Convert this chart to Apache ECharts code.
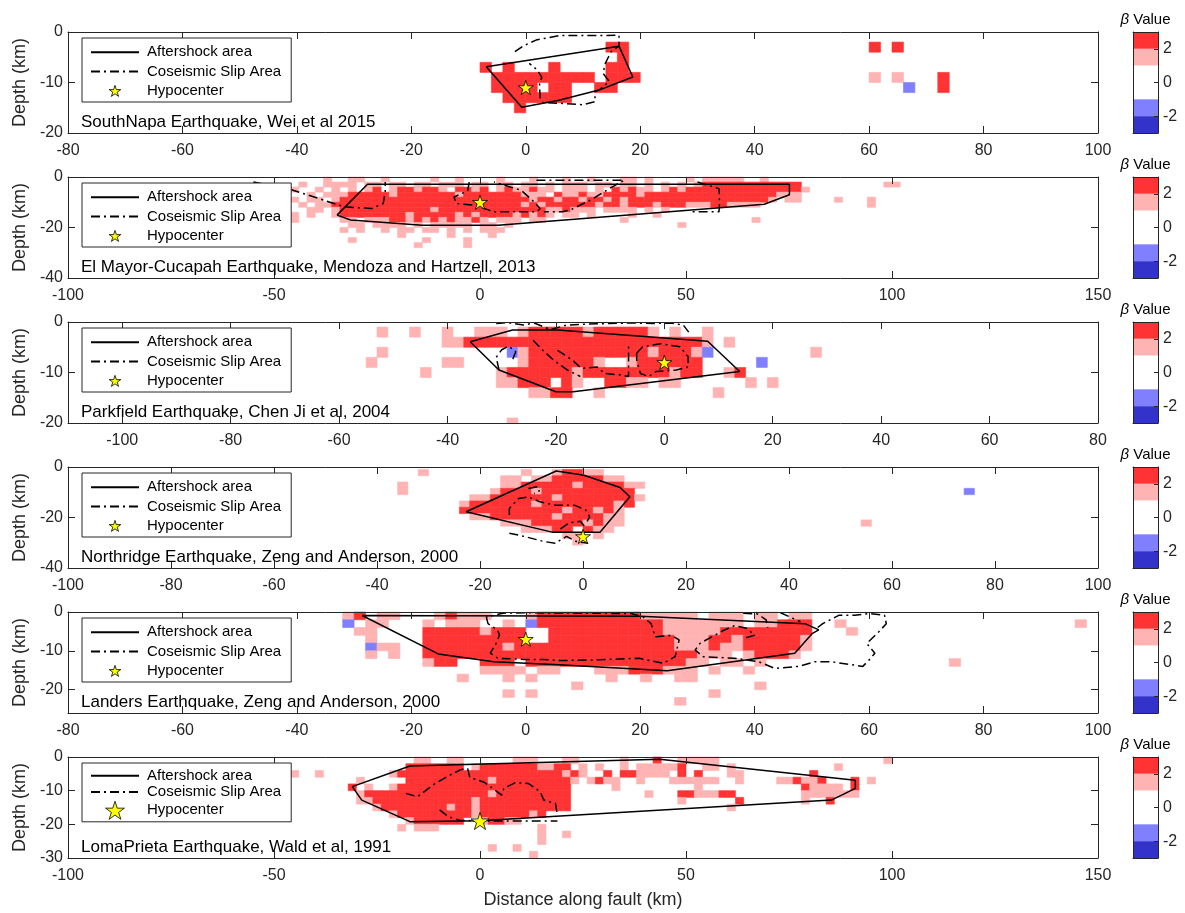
<!DOCTYPE html>
<html>
<head>
<meta charset="utf-8">
<script src="https://cdn.jsdelivr.net/npm/echarts@6/dist/echarts.min.js"></script>
<style>
  html, body { margin: 0; padding: 0; background: #ffffff; }
  #chart { width: 1185px; height: 913px; }
</style>
</head>
<body>
<div id="chart"></div>
<script>
// ---------------------------------------------------------------------------
// β value classes shared by every panel and colour bar
// ---------------------------------------------------------------------------
const betaLevels = [
  { from: 2, to: 3, color: '#ff3333' },
  { from: 1, to: 2, color: '#ffb3b3' },
  { from: -1, to: 1, color: '#ffffff' },
  { from: -2, to: -1, color: '#8080ff' },
  { from: -3, to: -2, color: '#3333cc' }
];
const betaTicks = [-2, 0, 2];
// cell codes used in the row strings below: R β>2, r 1<β<2, b -2<β<-1, B β<-2
const codeBeta = { R: 2.5, r: 1.5, b: -1.5, B: -2.5 };

const seriesNames = ['Aftershock area', 'Coseismic Slip Area', 'Hypocenter'];

// ---------------------------------------------------------------------------
// South Napa (Wei et al 2015) — 2 km cells, columns start at x = -7
// ---------------------------------------------------------------------------
const napaLabel = 'SouthNapa Earthquake, Wei et al 2015';
const napaXTicks = [-80, -60, -40, -20, 0, 20, 40, 60, 80, 100];
const napaYTicks = [-20, -10, 0];
const napaXRange = [-80, 100];
const napaYRange = [-20, 0];
const napaGrid = { x0: -7, dx: 2, dy: 2 };
const napaRows = [
  [-3,  '..... ..... .RR.'],
  [-5,  '..... ..... ..R.'],
  [-7,  'R.R.. .R... .RR.'],
  [-9,  '.RRRR RRRRR .RRR'],
  [-11, '.RRRR .RR.. RR..'],
  [-13, '..RRR RRR.. ....'],
  [-15, '...R. ..... ....']
];
const napaExtra = [[61, -3, 'R'], [65, -3, 'R'], [61, -9, 'r'], [65, -9, 'r'], [67, -11, 'b'], [73, -9, 'R'], [73, -11, 'R']];
const napaAftershock = [[-6.9, -6.9], [-0.7, -14.9], [5.8, -13.5], [12.8, -11.5], [18.7, -8.9], [16.3, -2.8], [-6.9, -6.9]];
const napaSlip = [
  [[-1.9, -3.9], [-0.5, -2.8], [1.8, -1.6], [5.8, -0.7], [16.3, -0.66], [16.3, -2.8], [14.9, -3.9], [13.9, -6.2], [13.5, -8.2],
   [14.6, -9.8], [12.8, -11.5], [12.1, -11.8], [12.1, -13.8], [10, -14.4], [5.8, -14.1], [3, -14], [2.5, -13], [2.4, -10],
   [2.8, -9], [2, -7.5], [0.6, -6.2]]
];
const napaHypo = [0, -11];

// ---------------------------------------------------------------------------
// El Mayor-Cucapah (Mendoza and Hartzell, 2013) — columns start at x = -55
// ---------------------------------------------------------------------------
const elMayorLabel = 'El Mayor-Cucapah Earthquake, Mendoza and Hartzell, 2013';
const elMayorXTicks = [-100, -50, 0, 50, 100, 150];
const elMayorYTicks = [-40, -20, 0];
const elMayorXRange = [-100, 150];
const elMayorYRange = [-40, 0];
const elMayorGrid = { x0: -55, dx: 2, dy: 2 };
const elMayorRows = [
  [-1,  '..... ....r ..rr. .r... ..r.. r.... r...r ...r. .r... rr.r. ...r. rrrrr ..r.. ..... ..... .....'],
  [-3,  '..... .r..r rrr.r r.rr. rr.rr r.rr. rr.rr .r.rr r.rr. rr.r. r.r.r RRRRR RRRRR RR... ..... ..rr.'],
  [-5,  '..... r..r. r.r.r R.rRR rRRr. RRrR. rRrrR rr.rr r.r.R rRrr. rRrRR RRRRR RRRRR RRr.. ..... .....'],
  [-7,  '..... ..r.r rrRRR RRrRR RRRRR rRRRR RRRrr r.Rrr RrrRR RRrRR RRRRR RRRRR RRRRr rr... ..... .....'],
  [-9,  '....r r.rr. rRRRR RRRRR RRRRR RRRRR RRRRr RRrRR rRRrR rRRRR RRRRR RRRRR RRRr. rr... .r... r....'],
  [-11, '..... .r.rr RRRRR RRRRR RRRRR RRRRR RRRrR rRRRR RRrRR rRRRr RRRrr rRRrr rr... ..... ..... r....'],
  [-13, '..... ..rr. rRRRR RRRRR RRrRR RRRRR RRRRR RrrRr rr.rr rr.r. r.... ..... ..... ..... ..... .....'],
  [-15, '..... r.r.. rRRRR RRRRr RRRRR rRrRR RRrRr Rr.rr .r... .r..r ..... ..... ..... ..... ..... .....'],
  [-17, '..... r.... .rr.r rrRRr RrRrR rrRr. rrr.r r.... ..... r.... ..... ..... .r... ..... ..... .....'],
  [-19, '..... ..... ..rr. rrrr. r.rrr rr.rr .r... ..... ..... ..... ..r.. ..... ..... ..... ..... .....'],
  [-21, '..... ..... .r.r. .r.rr .rr.r .r.rr r.... .....'],
  [-23, '..... ..... ..... ...r. ....r ....r ..... .....'],
  [-25, '..... ..... ..r.. ..... .r... .r... ..... .....'],
  [-27, '..... ..... ..... ..... r.... .r... ..... .....']
];
const elMayorExtra = [];
const elMayorAftershock = [[-34.7, -15.1], [-27.3, -2.9], [75.1, -2.9], [75.1, -7], [69, -10.8], [4.4, -19.1], [-14, -19.1], [-31.4, -17], [-34.7, -15.1]];
const elMayorSlip = [
  [[-55, -2], [-46, -4.9], [-39, -8.6], [-33, -11.8], [-26.3, -12.5], [-23.5, -10.5], [-23, -6], [-23, -2]],
  [[-2.6, -2], [-3, -5.5], [-6.3, -7.9], [-5.8, -10.5], [-1.2, -11.2], [3.4, -13.8], [13.7, -13.8], [14.6, -12.5], [12.7, -9.2], [10, -5.3], [3.4, -2]],
  [[13.7, -1.3], [35, -1.3], [32, -4], [27, -9], [22, -13], [20, -13.8], [15.5, -13.8]],
  [[52.8, -2], [58, -4.6], [58.1, -7], [58.1, -12], [58, -13.8], [51.4, -13.8]]
];
const elMayorHypo = [0, -10];

// ---------------------------------------------------------------------------
// Parkfield (Chen Ji et al, 2004) — columns start at x = -56
// ---------------------------------------------------------------------------
const parkfieldLabel = 'Parkfield Earthquake, Chen Ji et al, 2004';
const parkfieldXTicks = [-100, -80, -60, -40, -20, 0, 20, 40, 60, 80];
const parkfieldYTicks = [-20, -10, 0];
const parkfieldXRange = [-110, 80];
const parkfieldYRange = [-20, 0];
const parkfieldGrid = { x0: -56, dx: 2, dy: 2 };
const parkfieldRows = [
  [-2,  '..r.. r..r. .rrr. rRRRR RrRRR RRr.r ..r.. ..... .....'],
  [-4,  '..... ...rr RRRRR RRRRR RRRRR RRRRR RRr.r ..... .....'],
  [-6,  '..r.. ..... ....b rRRRR RRRRR RRrRR Rrb.. ..... ..r..'],
  [-8,  '.r... ...rr ..... rRRRR RRr.. rRRRR RR... ..b.. .....'],
  [-10, '..... .r... ...rR RRRRR rRRRR RRRRr RR..r R.... .....'],
  [-12, '..... ..... ...rr RRR.R r..RR rr.rr ..... .r.r. .....'],
  [-14, '..... ..... ..... .rrRR ..r.. ..... ...r. ..... .....'],
  [-20, '..... ..... ....r']
];
const parkfieldExtra = [[-70, -6, 'r']];
const parkfieldAftershock = [[-35.8, -3.9], [-28, -1.6], [-19.7, -1.6], [8, -3.8], [13.9, -9.8], [-16.8, -13.8], [-20, -13.8], [-30.5, -9.5], [-35.8, -3.9]];
const parkfieldSlip = [
  [[-30.5, -9.5], [-31, -7], [-30, -5.5], [-28.7, -4.8], [-27.4, -5.9], [-28, -7.5]],
  [[-31, -0.3], [-29, -0.1], [-26, -0.6], [-24, -0.2], [-21, -1.5], [-18, -0.6], [-14, -0.4], [-10, -0.3], [-6, -0.2], [-2, -0.3], [1, -0.2], [3.5, -0.6], [4.5, -2]],
  [[-24.2, -3.6], [-22.5, -5.5], [-20.5, -7.5], [-17.9, -9.5], [-15.5, -10.8]],
  [[-19.7, -5.6], [-17, -7.5], [-15.3, -9.2], [-12.4, -8.9], [-11, -10.2], [-8, -10.5], [-6.6, -10.8], [-6.6, -4.3]],
  [[-5.1, -6.2], [-4, -4.9], [-0.7, -4.3], [2.9, -4.9], [4.4, -6.9], [4.4, -8.9], [2.2, -9.5], [-1.5, -9.8], [-2.9, -10.8], [-4.4, -10.2], [-5.1, -7.5], [-5.1, -6.2]]
];
const parkfieldHypo = [0, -8];

// ---------------------------------------------------------------------------
// Northridge (Zeng and Anderson, 2000) — columns start at x = -25, rows 2.5 km apart
// ---------------------------------------------------------------------------
const northridgeLabel = 'Northridge Earthquake, Zeng and Anderson, 2000';
const northridgeXTicks = [-100, -80, -60, -40, -20, 0, 20, 40, 60, 80, 100];
const northridgeYTicks = [-40, -20, 0];
const northridgeXRange = [-100, 100];
const northridgeYRange = [-40, 0];
const northridgeGrid = { x0: -25, dx: 2, dy: 2.5 };
const northridgeRows = [
  [-2.2,  '..... ..r.. rRRrr .....'],
  [-4.7,  '..... rr.rr RRRRR rr...'],
  [-7.2,  '..... rrRRR RRrRR RRrr.'],
  [-9.7,  '....r RRRrR RRRRR RRR..'],
  [-12.2, '..rrR RRRRR rRRRR RRRr.'],
  [-14.7, '.rRRR RRRrR RRRRR RrR..'],
  [-17.2, '.RRRR RRRRR RrRRr Rr...'],
  [-19.7, '..rrR RRRRR rRRRR rr...'],
  [-22.2, '..... rrrRR RRRrR rr...'],
  [-24.7, '..... ..rrr RR.Rr r....'],
  [-27.2, '..... ..... .rr.r .....'],
  [-29.7, '..... ..... ..r.. .....']
];
const northridgeExtra = [[-31, -2.2, 'r'], [-35, -7.2, 'r'], [-35, -9.7, 'r'], [55, -22.2, 'r'], [75, -9.7, 'b']];
const northridgeAftershock = [[-22.7, -17.7], [-5.2, -1.6], [0.2, -3.3], [7.2, -8.1], [9.1, -11.8], [3.3, -25.8], [-6, -25.8], [-22.7, -17.7]];
const northridgeSlip = [
  [[-14.3, -19], [-14.3, -16.4], [-12.5, -12.5], [-10.6, -11.8], [-8.4, -13.8], [-5.4, -15.1], [-1.7, -15.1], [0.5, -17], [1.3, -19.7], [0.8, -21.5]],
  [[-10.6, -8.5], [-8.8, -7.8], [-8.5, -9.5], [-9.5, -10.5]],
  [[-14.3, -26.2], [-11.4, -27.5], [-7.6, -29.5], [-5.4, -30.2], [-3.2, -27.5], [-1.3, -29.5], [1, -30.2]],
  [[-4.4, -24.5], [-2.5, -22], [-0.5, -21.5], [0.5, -24]]
];
const northridgeHypo = [0, -27.5];

// ---------------------------------------------------------------------------
// Landers (Zeng and Anderson, 2000) — columns start at x = -33
// ---------------------------------------------------------------------------
const landersLabel = 'Landers Earthquake, Zeng and Anderson, 2000';
const landersXTicks = [-80, -60, -40, -20, 0, 20, 40, 60, 80, 100];
const landersYTicks = [-20, -10, 0];
const landersXRange = [-80, 100];
const landersYRange = [-26, 0];
const landersGrid = { x0: -33, dx: 2, dy: 2 };
const landersRows = [
  [-1,  '.rR.r r...r Rrrr. ..rRR RRRRR RRrrr rr.rr r.rr. rr... .....'],
  [-3,  '.b.rr ...r. rrr.. r.bRR RRRRR RRRRr rrrrr r.rrR RR..r .....'],
  [-5,  '..rr. ...RR RRRrR RR..R RRRRR RRRRr rrrrR RRRRR RR... r....'],
  [-7,  '...r. ...RR RRRRR RR..R RRRRR RRRRR rrrRR rRRRR Rr... .....'],
  [-9,  '...br r..RR RRRRR rRRRR RRRRR RRRRR rrrRr rRRRR Rr... .....'],
  [-11, '...r. r..RR RRRRR RRRRR RRRRR RRRRR RRrrr .rRRR r.... .....'],
  [-13, '..... ...rR R..RR R.RRR RRRRR RRRRR Rrr.r r.r.. ..... .....'],
  [-15, '..... ..... ...rr rr.rr ...rr rRRRr rr.r. .r... ..... .....'],
  [-17, '..... ..... .r... r.r.. ....r ..r.. rr... ..... ..... .....'],
  [-19, '..... ..... ..... ..... .r... ..... ..... ..r.. ..... .....'],
  [-21, '..... ..... ..... r.r.. ..... ..... ...r. ..... ..... .....'],
  [-23, '..... ..... ..... ..... ..... ..... r.... ..... ..... .....']
];
const landersExtra = [[75, -13, 'r'], [97, -3, 'r']];
const landersAftershock = [[-28.6, -0.9], [-15.3, -10.8], [-5.6, -12.8], [5.8, -13.6], [24.7, -15.1], [47, -10.6], [50.1, -5.5], [51.2, -4.6], [48.8, -3], [20, -1.1], [-28.6, -0.9]];
const landersSlip = [
  [[-6.9, -1.3], [-6.6, -3], [-4.9, -4.7], [-4.6, -6], [-5.2, -8.1], [-6.2, -10.6], [-4.9, -11.9], [-0.2, -12.2], [3.1, -12.2],
   [5.8, -12.5], [12.8, -12.3], [19.8, -11.9], [24, -13.2], [26.1, -11.5], [26.8, -7.2], [25.4, -6], [22.6, -6.4], [21.9, -3],
   [20.5, -1.3], [18.4, -0.4], [10, -0.3], [0, -0.2], [-4, -0.3], [-6.9, -1.3]],
  [[38.5, -6.6], [40, -6], [38.6, -4.2], [36.5, -3.5], [34.6, -4.7], [32.5, -6.4], [30.5, -8], [29.6, -9.8], [31, -11.5], [36.5, -11.9],
   [40.7, -12.8], [43.5, -14.5], [47.7, -14], [50.5, -12.8], [53.3, -12.8], [58.9, -14], [60.3, -11.9], [61, -10.6], [59.6, -8.1],
   [61.7, -5.1], [63, -3], [62.7, -0.85], [60, -0.4], [57.5, -0.85], [54.7, -0.85], [51.9, -3], [51, -4]],
  [[38, -0.3], [40.5, -0.5], [42, -2], [42.3, -4]],
  [[44.5, -0.2], [46.5, -1.5], [48, -2.5]]
];
const landersHypo = [0, -7];

// ---------------------------------------------------------------------------
// Loma Prieta (Wald et al, 1991) — columns start at x = -31
// ---------------------------------------------------------------------------
const lomaLabel = 'LomaPrieta Earthquake, Wald et al, 1991';
const lomaXTicks = [-100, -50, 0, 50, 100, 150];
const lomaYTicks = [-30, -20, -10, 0];
const lomaXRange = [-100, 150];
const lomaYRange = [-30, 0];
const lomaGrid = { x0: -31, dx: 2, dy: 2 };
const lomaRows = [
  [-1,  '..... ...rr ..rr. ..... rrr.. .rr.. ...r. ..R.. rrrrr ..... ..... ..... ..... r'],
  [-3,  '..... ..RRR RRRR. rRRRR RRRrr RR.r. r..r. rrrrr R..rr .r... ..... ....r .....'],
  [-5,  '..... rRRRR RRRRR RRRRR RRRRR RrRr. .R.RR rrrr. R.R.. .rr.. ..... .R... .....'],
  [-7,  '.r... ..RRR RRRRR RRrRR RRRRR RRr.r Rrr.. r...r rrrrr ..r.. ..rrR rrR.. .R.r.'],
  [-9,  'R.r.. rRRRR RRRRR RRRRR RRRRR RR... ..r.. ..... ..r.. ..... ..... Rrrrr .R...'],
  [-11, '.rRRR RRRRR RRRRR RRrRR RRRRR RR... ..... .r... RRrrr RR... ..... rrrrr rr...'],
  [-13, '.rrRR RRRRR RRRRR rRRRR RRRRR RR... ..... ..... r.... ..R.. ..... r..R. .....'],
  [-15, '...rR RRRRR RRrRR rRRRR RRRRR RR... ..... ..... ..... .r... .....'],
  [-17, '..... rRRRR RRRRR rRRRR RRrR. .....'],
  [-19, '..... ..rRR RRRR. .rRRr r....'],
  [-21, '..... .r.rr r.... ..... ...r.'],
  [-23, '..... ..... ..... ..... ...r. .r...'],
  [-25, '..... ..... ..... ..... ...r.'],
  [-27, '..... ..... ..... ..r.. r....'],
  [-29, '..... ..... ..... ..... ..r..']
];
const lomaExtra = [[-45, -5, 'r'], [-39, -5, 'r']];
const lomaAftershock = [[-31, -8.8], [-28.7, -12.8], [-17, -19.2], [0, -18.9], [19.5, -17.5], [85.3, -12.8], [91.1, -9.3], [91.1, -6.9], [43.6, -0.7], [-17, -2.65], [-31, -8.8]];
const lomaSlip = [
  [[-18, -10.8], [-15.2, -11.8], [-11, -8], [-7.5, -5.5], [-4.9, -3.9], [-3.6, -3.4]],
  [[-3, -3.4], [-2.5, -6], [1, -7.5], [5.3, -11.3], [5.8, -9.3], [8.6, -7.6], [11.8, -7.9], [14.6, -10.3], [15.5, -12.8], [18.3, -13.8], [18.8, -17.2]],
  [[-9.8, -15.7], [-7.7, -17.7], [-5, -18.8], [0, -19], [10, -19], [18.8, -19]]
];
const lomaHypo = [0, -19];

// ---------------------------------------------------------------------------
// Panel table built from the arrays above
// ---------------------------------------------------------------------------
const panels = [
  { label: napaLabel, grid: napaGrid, rows: napaRows, extra: napaExtra, after: napaAftershock, slip: napaSlip, hypo: napaHypo,
    xr: napaXRange, yr: napaYRange, xt: napaXTicks, yt: napaYTicks },
  { label: elMayorLabel, grid: elMayorGrid, rows: elMayorRows, extra: elMayorExtra, after: elMayorAftershock, slip: elMayorSlip, hypo: elMayorHypo,
    xr: elMayorXRange, yr: elMayorYRange, xt: elMayorXTicks, yt: elMayorYTicks },
  { label: parkfieldLabel, grid: parkfieldGrid, rows: parkfieldRows, extra: parkfieldExtra, after: parkfieldAftershock, slip: parkfieldSlip, hypo: parkfieldHypo,
    xr: parkfieldXRange, yr: parkfieldYRange, xt: parkfieldXTicks, yt: parkfieldYTicks },
  { label: northridgeLabel, grid: northridgeGrid, rows: northridgeRows, extra: northridgeExtra, after: northridgeAftershock, slip: northridgeSlip, hypo: northridgeHypo,
    xr: northridgeXRange, yr: northridgeYRange, xt: northridgeXTicks, yt: northridgeYTicks },
  { label: landersLabel, grid: landersGrid, rows: landersRows, extra: landersExtra, after: landersAftershock, slip: landersSlip, hypo: landersHypo,
    xr: landersXRange, yr: landersYRange, xt: landersXTicks, yt: landersYTicks },
  { label: lomaLabel, grid: lomaGrid, rows: lomaRows, extra: lomaExtra, after: lomaAftershock, slip: lomaSlip, hypo: lomaHypo,
    xr: lomaXRange, yr: lomaYRange, xt: lomaXTicks, yt: lomaYTicks }
];

// ---------------------------------------------------------------------------
// Layout and styling
// ---------------------------------------------------------------------------
const FONT = '"Liberation Sans", Arial, Helvetica, sans-serif';
const INK = '#262626';
const TOPS = [32, 177, 322, 467, 612, 757];
const PLOT = { left: 68, width: 1030, height: 101 };
const BAR = { left: 1133, width: 25 };
const STAR = 'path://M50 0L61.2 34.5H97.6L68.2 55.9L79.4 90.5L50 69.1L20.6 90.5L31.8 55.9L2.4 34.5H38.8Z';
const STAR_FILL = '#ffff00';

function betaColor(v) {
  for (const l of betaLevels) if (v >= l.from && v <= l.to) return l.color;
  return '#ffffff';
}

function cellsFrom(rows, g, extra) {
  const out = [];
  rows.forEach(([y, s]) => {
    const codes = s.replace(/\s+/g, '');
    for (let i = 0; i < codes.length; i++) {
      const b = codeBeta[codes[i]];
      if (b !== undefined) out.push([g.x0 + i * g.dx, y, b]);
    }
  });
  extra.forEach(([x, y, c]) => out.push([x, y, codeBeta[c]]));
  return out;
}

function cellRenderer(dx, dy) {
  return function (params, api) {
    const x = api.value(0), y = api.value(1), v = api.value(2);
    const a = api.coord([x - dx / 2, y + dy / 2]);
    const b = api.coord([x + dx / 2, y - dy / 2]);
    const cs = params.coordSys;
    const shape = echarts.graphic.clipRectByRect(
      { x: a[0], y: a[1], width: b[0] - a[0], height: b[1] - a[1] },
      { x: cs.x, y: cs.y, width: cs.width, height: cs.height });
    if (!shape) return null;
    const c = betaColor(v);
    return { type: 'rect', shape: shape, style: { fill: c, stroke: c, lineWidth: 0.6 } };
  };
}

function barRenderer(params, api) {
  const a = api.coord([0, api.value(1)]);
  const b = api.coord([1, api.value(0)]);
  return { type: 'rect', shape: { x: a[0], y: a[1], width: b[0] - a[0], height: b[1] - a[1] },
           style: { fill: betaLevels[params.dataIndex].color } };
}

const lineAxis = { show: true, onZero: false, lineStyle: { color: INK, width: 1 } };
const tickStyle = { color: INK, width: 1 };
const labelFont = { fontSize: 16, color: INK, fontFamily: FONT };

const grid = [], xAxis = [], yAxis = [], series = [], legend = [], title = [], graphic = [];

panels.forEach((p, i) => {
  const top = TOPS[i];
  grid.push({ left: PLOT.left, top: top, width: PLOT.width, height: PLOT.height, containLabel: false, outerBoundsMode: 'none' });

  const xBase = { type: 'value', gridIndex: i, min: p.xr[0], max: p.xr[1], splitLine: { show: false }, axisLine: lineAxis, z: 5 };
  xAxis.push(Object.assign({}, xBase, {
    position: 'bottom',
    axisTick: { show: true, inside: true, length: 7, lineStyle: tickStyle, customValues: p.xt },
    axisLabel: Object.assign({ show: true, margin: 10, customValues: p.xt }, labelFont),
    name: i === panels.length - 1 ? 'Distance along fault (km)' : '',
    nameLocation: 'middle', nameGap: 33,
    nameTextStyle: { fontSize: 18, color: INK, fontFamily: FONT }
  }));
  xAxis.push(Object.assign({}, xBase, {
    position: 'top',
    axisTick: { show: true, inside: true, length: 7, lineStyle: tickStyle, customValues: p.xt },
    axisLabel: { show: false }
  }));

  const yBase = { type: 'value', gridIndex: i, min: p.yr[0], max: p.yr[1], splitLine: { show: false }, axisLine: lineAxis, z: 5 };
  yAxis.push(Object.assign({}, yBase, {
    position: 'left',
    axisTick: { show: true, inside: true, length: 7, lineStyle: tickStyle, customValues: p.yt },
    axisLabel: Object.assign({ show: true, margin: 5, customValues: p.yt }, labelFont),
    name: 'Depth (km)', nameLocation: 'middle', nameGap: 36,
    nameTextStyle: { fontSize: 18, color: INK, fontFamily: FONT }
  }));
  yAxis.push(Object.assign({}, yBase, {
    position: 'right',
    axisTick: { show: true, inside: true, length: 7, lineStyle: tickStyle, customValues: p.yt },
    axisLabel: { show: false }
  }));

  // subfault β cells
  series.push({
    type: 'custom', xAxisIndex: 2 * i, yAxisIndex: 2 * i, z: 1, silent: true,
    renderItem: cellRenderer(p.grid.dx, p.grid.dy),
    data: cellsFrom(p.rows, p.grid, p.extra)
  });
  // aftershock outline
  series.push({
    type: 'line', name: seriesNames[0], xAxisIndex: 2 * i, yAxisIndex: 2 * i, z: 3, silent: true,
    symbol: 'none', data: p.after, lineStyle: { color: '#000', width: 1.5 }
  });
  // coseismic slip contours
  p.slip.forEach(piece => {
    series.push({
      type: 'line', name: seriesNames[1], xAxisIndex: 2 * i, yAxisIndex: 2 * i, z: 3, silent: true,
      symbol: 'none', data: piece, lineStyle: { color: '#000', width: 1.5, type: [9, 4, 2, 4] }
    });
  });
  // hypocenter
  series.push({
    type: 'scatter', name: seriesNames[2], xAxisIndex: 2 * i, yAxisIndex: 2 * i, z: 4, silent: true,
    symbol: STAR, symbolKeepAspect: true, symbolSize: i === panels.length - 1 ? 18 : 15,
    data: [p.hypo], itemStyle: { color: STAR_FILL, borderColor: '#000', borderWidth: 0.8, opacity: 1 }
  });

  const big = i === panels.length - 1;
  legend.push({
    orient: 'vertical', left: 82, top: top + 6, z: 6,
    selectedMode: false,
    backgroundColor: '#ffffff', borderColor: INK, borderWidth: 1, borderRadius: 0,
    padding: big ? [5.3, 10, 2.1, 8] : [6.8, 10, 3.6, 8],
    itemWidth: 48, itemHeight: big ? 18 : 11, itemGap: big ? 1.3 : 4.3,
    itemStyle: { borderWidth: 0.8 },
    textStyle: { fontSize: 15, color: '#000', fontFamily: FONT, padding: [0, 0, 0, 3] },
    data: [
      { name: seriesNames[0], itemStyle: { opacity: 0 } },
      { name: seriesNames[1], itemStyle: { opacity: 0 } },
      { name: seriesNames[2], itemStyle: { color: STAR_FILL, borderColor: '#000', borderWidth: 0.8 } }
    ]
  });

  title.push({
    text: p.label, left: 81, top: top + 82, padding: 0,
    textStyle: { fontSize: 17, fontWeight: 'normal', color: '#000', fontFamily: FONT }
  });
});

// colour bars
panels.forEach((p, i) => {
  const top = TOPS[i];
  const g = panels.length + i;
  grid.push({ left: BAR.left, top: top, width: BAR.width, height: PLOT.height, containLabel: false, outerBoundsMode: 'none' });
  const bx = { type: 'value', gridIndex: g, min: 0, max: 1, splitLine: { show: false }, axisLine: lineAxis,
               axisTick: { show: false }, axisLabel: { show: false }, z: 5 };
  xAxis.push(Object.assign({}, bx, { position: 'bottom' }));
  xAxis.push(Object.assign({}, bx, { position: 'top' }));
  const by = { type: 'value', gridIndex: g, min: -3, max: 3, splitLine: { show: false }, axisLine: lineAxis, z: 5 };
  yAxis.push(Object.assign({}, by, { position: 'left', axisTick: { show: false }, axisLabel: { show: false } }));
  yAxis.push(Object.assign({}, by, {
    position: 'right',
    axisTick: { show: true, inside: true, length: 4, lineStyle: tickStyle, customValues: betaTicks },
    axisLabel: Object.assign({ show: true, margin: 5, customValues: betaTicks }, labelFont)
  }));
  series.push({
    type: 'custom', xAxisIndex: 12 + 2 * i, yAxisIndex: 12 + 2 * i, z: 1, silent: true,
    renderItem: barRenderer,
    data: betaLevels.map(l => [l.from, l.to])
  });
  graphic.push({
    type: 'text', x: BAR.left + BAR.width / 2, y: top - 12, z: 10,
    style: {
      text: '{b|β} Value', fontSize: 15, fontFamily: FONT, fill: '#000',
      align: 'center', verticalAlign: 'middle',
      rich: { b: { fontStyle: 'italic', fontSize: 15, fontFamily: FONT, fill: '#000' } }
    }
  });
});

const chart = echarts.init(document.getElementById('chart'), null, { renderer: 'canvas' });
chart.setOption({
  animation: false,
  backgroundColor: '#ffffff',
  textStyle: { fontFamily: FONT },
  grid: grid, xAxis: xAxis, yAxis: yAxis,
  legend: legend, title: title, graphic: graphic,
  series: series
});
</script>
</body>
</html>
